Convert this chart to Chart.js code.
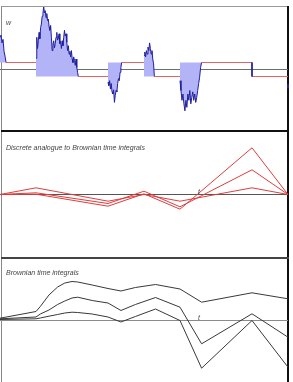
<!DOCTYPE html>
<html>
<head>
<meta charset="utf-8">
<script src="https://cdn.jsdelivr.net/npm/chart.js@4"></script>
<style>
body { margin: 0; background: #fff; width: 293px; height: 382px; position: relative; overflow: hidden; font-family: "Liberation Sans", Arial, sans-serif; }
.frame { position: absolute; }
canvas { position: absolute; left: 0; }
.lbl { position: absolute; font-size: 7px; font-style: italic; color: #444; line-height: 7px; white-space: nowrap; }
</style>
</head>
<body>
<div class="frame" style="left:1px;top:6px;width:287px;height:1px;background:#999"></div>
<div class="frame" style="left:1px;top:6px;width:1px;height:376px;background:#888"></div>
<div class="frame" style="left:287px;top:6px;width:2px;height:376px;background:#111"></div>
<div class="frame" style="left:1px;top:130px;width:288px;height:2px;background:#111"></div>
<div class="frame" style="left:1px;top:257px;width:288px;height:2px;background:#444"></div>

<canvas id="c1" width="290" height="123" style="top:7px"></canvas>
<canvas id="c2" width="290" height="125" style="top:132px"></canvas>
<canvas id="c3" width="290" height="123" style="top:259px"></canvas>

<div class="lbl" style="left:6px;top:19px">w</div>
<div class="lbl" style="left:6px;top:144px">Discrete analogue to Brownian time integrals</div>
<div class="lbl" style="left:198px;top:188px">t</div>
<div class="lbl" style="left:6px;top:269px">Brownian time integrals</div>
<div class="lbl" style="left:198px;top:314px">t</div>

<script>
// panel 1: path W shown on its excursion pieces, +-1 step in between
const segStart = [0, 0.125, 0.375, 0.5, 0.625];
const segEnd = [0.021, 0.272, 0.4225, 0.536, 0.70];
const segW = [
    [4.6, 4.9, 3.8, 4.3, 2.6, 1.9, 1.0],
    [1.6, 4.6, 3.0, 4.1, 5.3, 4.4, 6.0, 6.5, 7.6, 8.0, 9.0, 8.1, 8.4, 7.4, 8.0, 7.0, 7.2, 6.1, 5.6, 6.3,
     4.6, 2.7, 3.6, 4.1, 3.1, 3.7, 4.6, 5.3, 4.2, 4.4, 5.1, 3.7, 4.0, 3.0, 4.1, 3.4, 4.6, 5.6, 4.8, 5.1,
     3.9, 2.7, 3.4, 2.2, 2.6, 1.8, 2.7, 1.5, 1.0, 1.8, 1.3, 0.6, 1.5, 0.3, -0.4, -1.0],
    [-1.8, -2.3, -1.6, -2.8, -2.0, -3.2, -3.5, -2.9, -4.7, -3.7, -3.0, -3.2, -2.0, -1.3, -1.6, -0.4, 0.3, 1.0],
    [2.0, 2.5, 1.8, 2.7, 2.2, 3.2, 2.7, 3.8, 3.0, 2.2, 2.7, 1.5, 0.8, -1.0],
    [-1.6, -3.0, -4.4, -3.5, -4.9, -5.9, -4.4, -5.4, -3.5, -4.4, -3.0, -4.9, -4.0, -3.2, -4.4, -3.5,
     -4.7, -4.0, -3.0, -2.0, -1.1, 0.3, 1.0]
];
const stepFrom = [0.021, 0.272, 0.4225, 0.536, 0.70, 0.875];
const stepTo = [0.125, 0.375, 0.5, 0.625, 0.875, 1];
const stepLevel = [1, -1, 1, -1, 1, -1];
const jumpT = 0.875;
const jumpW = [1, -1];
const endT = 1;
const endW = [-2.1, -2.7];

// panel 2: discrete analogue
const discTimes = [0, 0.125, 0.375, 0.5, 0.625, 0.875, 1];
const disc1 = [0, 0.3, -11.7, 0.7, -14.7, 46.7, 0];
const disc2 = [0, 1.7, -9.0, 3.3, -12.3, 24.7, 0];
const disc3 = [0, 6.7, -6.7, 0, -6.7, 6.7, 0];

// panel 3: Brownian time integrals
const bmTimes = [0, 0.125, 0.14, 0.17, 0.2, 0.225, 0.25, 0.27, 0.32, 0.375, 0.42, 0.47, 0.54, 0.625, 0.70, 0.875, 1];
const bmTop = [2.3, 9, 14, 25.5, 33.5, 37.5, 39, 38.5, 35.5, 32, 29.5, 33, 36, 31.5, 18.3, 27.7, 21.7];
const bmMid = [1.7, 3.5, 6.5, 10.5, 16, 19.5, 22.5, 23.3, 20, 17.5, 10, 16, 23, 13.3, -23.3, 6.7, -16.7];
const bmBot = [1, 1.7, 2.5, 4.3, 6, 7.5, 8.3, 8, 6.5, 3.5, -1.5, 4, 11.5, 0, -47.7, 0, -46.7];

const pathColor = '#1f1f9c';
const fillColor = '#b2b4f7';
const stepColor = '#e46464';
const discColor = '#e03c3c';
const bmColor = '#383838';

function baseOptions(ymin, ymax) {
    return {
        responsive: false,
        animation: false,
        devicePixelRatio: 1,
        events: [],
        layout: { padding: 0 },
        plugins: { legend: { display: false }, tooltip: { enabled: false } },
        elements: { point: { radius: 0 }, line: { tension: 0 } },
        scales: {
            x: { type: 'linear', display: false, min: 0, max: 290 / 288 },
            y: { display: false, min: ymin, max: ymax }
        }
    };
}

function line(xs, ys, color, width) {
    return {
        data: xs.map((x, i) => ({ x: x, y: ys[i] })),
        borderColor: color,
        borderWidth: width || 1,
        fill: false,
        clip: false
    };
}

function baseline(color) {
    return line([0, 1], [0, 0], color, 1);
}

// panel 1
const sets1 = [];
segW.forEach((vals, i) => {
    const n = vals.length;
    const ts = vals.map((v, j) => segStart[i] + (segEnd[i] - segStart[i]) * j / (n - 1));
    const ds = line(ts, vals, pathColor, 1);
    ds.fill = { value: stepLevel[i] };
    ds.backgroundColor = fillColor;
    sets1.push(ds);
});
sets1.push(line([jumpT, jumpT], jumpW, pathColor, 1));
sets1.push(line([endT, endT], endW, pathColor, 2));
stepLevel.forEach((lv, i) => {
    sets1.push(line([stepFrom[i], stepTo[i]], [lv, lv], stepColor, 1));
});
sets1.push(baseline('#6e6e6e'));

new Chart(document.getElementById('c1').getContext('2d'), {
    type: 'line',
    data: { datasets: sets1 },
    options: baseOptions(-60.5 / 7, 62.5 / 7)
});

// panel 2
new Chart(document.getElementById('c2').getContext('2d'), {
    type: 'line',
    data: {
        datasets: [
            line(discTimes, disc1, discColor),
            line(discTimes, disc2, discColor),
            line(discTimes, disc3, discColor),
            baseline('#555555')
        ]
    },
    options: baseOptions(-62.5, 62.5)
});

// panel 3
new Chart(document.getElementById('c3').getContext('2d'), {
    type: 'line',
    data: {
        datasets: [
            line(bmTimes, bmTop, bmColor),
            line(bmTimes, bmMid, bmColor),
            line(bmTimes, bmBot, bmColor),
            baseline('#8a8a8a')
        ]
    },
    options: baseOptions(-61.5, 61.5)
});
</script>
</body>
</html>
